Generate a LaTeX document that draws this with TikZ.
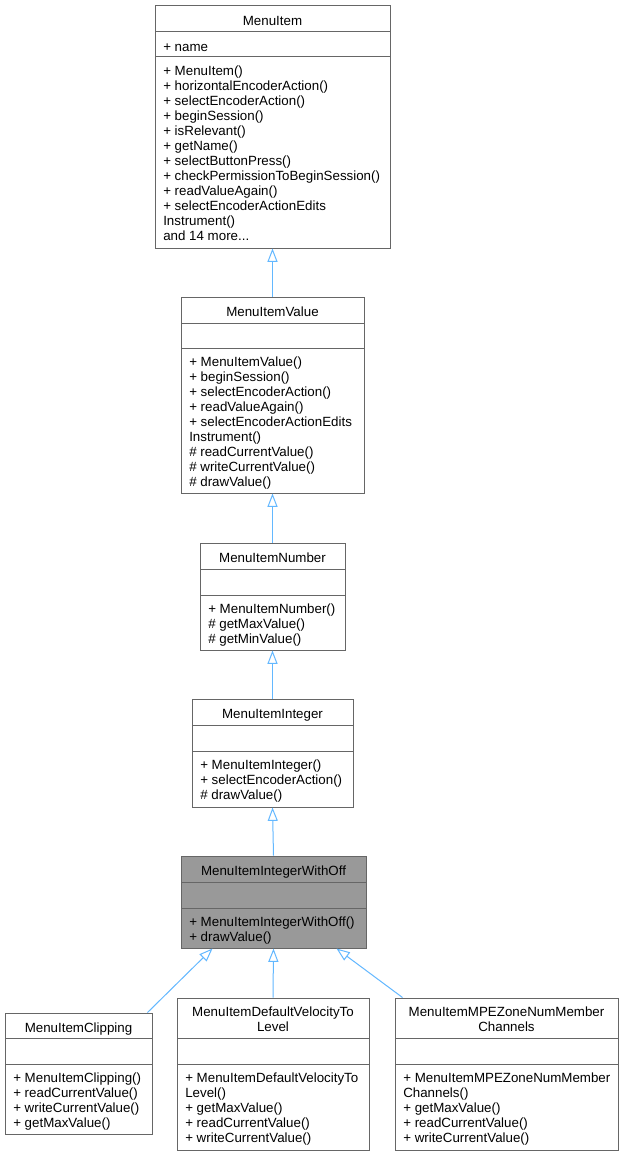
\documentclass[tikz,border=0pt]{standalone}
\usepackage{fontspec}
\setmainfont{Liberation Sans}
\usetikzlibrary{arrows.meta,fit,calc}
\definecolor{boxline}{HTML}{666666}
\definecolor{boxhi}{HTML}{999999}
\definecolor{inherit}{HTML}{63B8FF}

\begin{document}
\begin{tikzpicture}[x=0.75pt, y=-0.75pt,
    classbox/.style={draw=boxline, line width=0.75pt, fill=white, inner sep=0pt},
    sepline/.style={draw=boxline, line width=0.75pt},
    title/.style={anchor=north, inner sep=0pt, align=center,
      font=\fontsize{10}{11.25}\selectfont, execute at begin node=\strut},
    members/.style={anchor=north west, inner sep=0pt, align=left,
      font=\fontsize{10}{11.25}\selectfont, execute at begin node=\strut},
    isa/.style={draw=inherit, line width=0.75pt,
      -{Triangle[open, length=10pt, width=7.5pt]}}]
      \fill[white] (0,0) rectangle (624,1156);
      \useasboundingbox (0,0) rectangle (624,1156);

      % MenuItem
      \node[classbox, fit={(155,6) (390,248)}] (menuitem) {};
      \draw[sepline] (155,32) -- (390,32);
      \draw[sepline] (155,57) -- (390,57);
      \node[title] (menuitemT) at (272.5,15) {MenuItem};
      \node[members] (menuitemA) at (163,41) {+ name};
      \node[members] (menuitemM) at (163,66) {+ MenuItem()\\+ horizontalEncoderAction()\\+ selectEncoderAction()\\+ beginSession()\\+ isRelevant()\\+ getName()\\+ selectButtonPress()\\+ checkPermissionToBeginSession()\\+ readValueAgain()\\+ selectEncoderActionEdits\\Instrument()\\and 14 more...};

      % MenuItemValue
      \node[classbox, fit={(181,297) (364,493)}] (value) {};
      \draw[sepline] (181,323) -- (364,323);
      \draw[sepline] (181,348) -- (364,348);
      \node[title] (valueT) at (272.5,306) {MenuItemValue};
      \node[members] (valueM) at (189,357) {+ MenuItemValue()\\+ beginSession()\\+ selectEncoderAction()\\+ readValueAgain()\\+ selectEncoderActionEdits\\Instrument()\\\# readCurrentValue()\\\# writeCurrentValue()\\\# drawValue()};

      % MenuItemNumber
      \node[classbox, fit={(200,543) (345,650)}] (number) {};
      \draw[sepline] (200,569) -- (345,569);
      \draw[sepline] (200,595) -- (345,595);
      \node[title] (numberT) at (272.5,552) {MenuItemNumber};
      \node[members] (numberM) at (208,604) {+ MenuItemNumber()\\\# getMaxValue()\\\# getMinValue()};

      % MenuItemInteger
      \node[classbox, fit={(192,699) (353,807)}] (integer) {};
      \draw[sepline] (192,725) -- (353,725);
      \draw[sepline] (192,751) -- (353,751);
      \node[title] (integerT) at (272.5,708) {MenuItemInteger};
      \node[members] (integerM) at (200,760) {+ MenuItemInteger()\\+ selectEncoderAction()\\\# drawValue()};

      % MenuItemIntegerWithOff
      \node[classbox, fill=boxhi, fit={(181,856) (366,948)}] (withoff) {};
      \draw[sepline] (181,882) -- (366,882);
      \draw[sepline] (181,908) -- (366,908);
      \node[title] (withoffT) at (273.5,865) {MenuItemIntegerWithOff};
      \node[members] (withoffM) at (189,917) {+ MenuItemIntegerWithOff()\\+ drawValue()};

      % MenuItemClipping
      \node[classbox, fit={(5,1013) (152,1134)}] (clip) {};
      \draw[sepline] (5,1038) -- (152,1038);
      \draw[sepline] (5,1064) -- (152,1064);
      \node[title] (clipT) at (78.5,1022) {MenuItemClipping};
      \node[members] (clipM) at (13,1073) {+ MenuItemClipping()\\+ readCurrentValue()\\+ writeCurrentValue()\\+ getMaxValue()};

      % MenuItemDefaultVelocityToLevel
      \node[classbox, fit={(177,998) (369,1150)}] (default) {};
      \draw[sepline] (177,1038) -- (369,1038);
      \draw[sepline] (177,1064) -- (369,1064);
      \node[title] (defaultT) at (273,1007) {MenuItemDefaultVelocityTo\\Level};
      \node[members] (defaultM) at (185,1073) {+ MenuItemDefaultVelocityTo\\Level()\\+ getMaxValue()\\+ readCurrentValue()\\+ writeCurrentValue()};

      % MenuItemMPEZoneNumMemberChannels
      \node[classbox, fit={(395,998) (618,1150)}] (mpe) {};
      \draw[sepline] (395,1038) -- (618,1038);
      \draw[sepline] (395,1064) -- (618,1064);
      \node[title] (mpeT) at (506.5,1007) {MenuItemMPEZoneNumMember\\Channels};
      \node[members] (mpeM) at (403,1073) {+ MenuItemMPEZoneNumMember\\Channels()\\+ getMaxValue()\\+ readCurrentValue()\\+ writeCurrentValue()};

      % Heranca
      \draw[isa] (value.north) -- (menuitem.south);
      \draw[isa] (number.north) -- (value.south);
      \draw[isa] (integer.north) -- (number.south);
      \draw[isa] (withoff.north) -- (integer.south);
      \draw[isa] ($(clip.north east)+(-5,0)$) -- ($(withoff.south west)+(32,0)$);
      \draw[isa] (default.north) -- (withoff.south);
      \draw[isa] ($(mpe.north west)+(8,0)$) -- ($(withoff.south east)+(-30,0)$);
    \end{tikzpicture}
\end{document}
